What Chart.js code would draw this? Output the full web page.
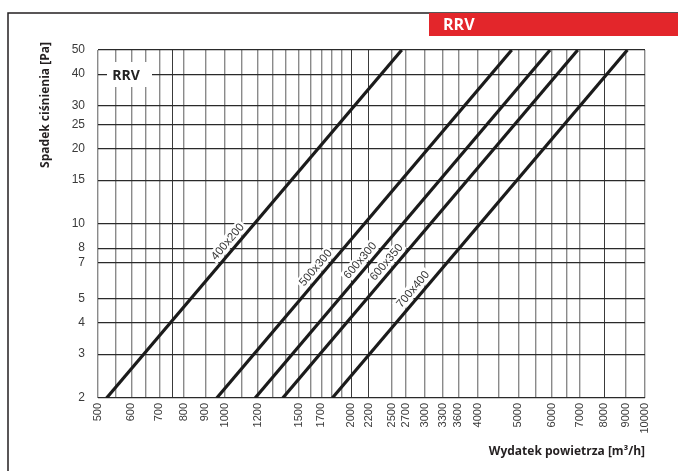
<!DOCTYPE html>
<html>
<head>
<meta charset="utf-8">
<script src="https://cdn.jsdelivr.net/npm/chart.js@4.4.1/dist/chart.umd.min.js"></script>
<style>
  html, body { margin: 0; padding: 0; background: #fff; }
  #wrap { width: 678px; height: 471px; }
</style>
</head>
<body>
<div id="wrap"><canvas id="rrvChart" width="678" height="471"></canvas></div>
<script>
// Charakterystyka RRV — spadek ciśnienia vs wydatek powietrza (skala log-log)

const SIZES = ['400x200', '500x300', '600x300', '600x350', '700x400'];
// Wydatek [m3/h] przy 2 Pa i przy 50 Pa (końce prostych)
const FLOW_AT_2PA = [524, 958, 1182, 1375, 1804];
const FLOW_AT_50PA = [2639, 4820, 5945, 6920, 9080];
const DP_LOW = 2;
const DP_HIGH = 50;

// Linie siatki osi X i opisane wartości
const X_GRID = [500, 550, 600, 650, 700, 750, 800, 900, 1000, 1100, 1200, 1300, 1400, 1500, 1600,
  1700, 1800, 1900, 2000, 2200, 2500, 2700, 3000, 3300, 3600, 4000, 4500, 5000, 5500, 6000, 6500,
  7000, 8000, 9000, 10000];
const X_LABELS = [500, 600, 700, 800, 900, 1000, 1200, 1500, 1700, 2000, 2200, 2500, 2700, 3000,
  3300, 3600, 4000, 5000, 6000, 7000, 8000, 9000, 10000];
const X_DARK = [750, 2000, 2200, 8000];
const Y_TICKS = [2, 3, 4, 5, 7, 8, 10, 15, 20, 25, 30, 40, 50];

// Położenie opisów wzdłuż prostych (ułamek długości od dołu)
const LABEL_T = [0.433, 0.358, 0.379, 0.374, 0.296];

const LINE_COLOR = '#1b1b1b';
const TEXT_COLOR = '#3a3a3a';

const decor = {
  id: 'decor',
  beforeDatasetsDraw(chart) {
    const ctx = chart.ctx;
    const xs = chart.scales.x, ys = chart.scales.y;

    // ramka: góra + lewa krawędź
    ctx.save();
    ctx.strokeStyle = '#231f20';
    ctx.lineWidth = 1.5;
    ctx.beginPath();
    ctx.moveTo(8, 471);
    ctx.lineTo(8, 13);
    ctx.lineTo(678, 13);
    ctx.stroke();

    // czerwony pasek z nazwą
    ctx.fillStyle = '#e3262b';
    ctx.fillRect(429, 13, 249, 23);
    ctx.fillStyle = '#fff';
    ctx.font = 'bold 16px "Open Sans"';
    ctx.textBaseline = 'middle';
    ctx.textAlign = 'left';
    ctx.fillText('RRV', 443, 25);

    // wstawka RRV w polu wykresu
    ctx.fillStyle = '#fff';
    ctx.fillRect(107, 62, 45, 25);
    ctx.fillStyle = '#222';
    ctx.font = 'bold 14px "Open Sans"';
    ctx.textAlign = 'center';
    ctx.fillText('RRV', 126, 76);

    // tytuły osi
    ctx.font = 'bold 12px "Open Sans"';
    ctx.fillStyle = '#231f20';
    ctx.save();
    ctx.translate(46, 105);
    ctx.rotate(-Math.PI / 2);
    ctx.textAlign = 'center';
    ctx.fillText('Spadek ciśnienia [Pa]', 0, 0);
    ctx.restore();
    ctx.textAlign = 'right';
    ctx.fillText('Wydatek powietrza [m³/h]', 645, 452);

    // opisy prostych
    ctx.font = '11.5px "Liberation Sans"';
    SIZES.forEach((name, i) => {
      const x0 = xs.getPixelForValue(FLOW_AT_2PA[i]), y0 = ys.getPixelForValue(DP_LOW);
      const x1 = xs.getPixelForValue(FLOW_AT_50PA[i]), y1 = ys.getPixelForValue(DP_HIGH);
      const dx = x1 - x0, dy = y1 - y0;
      const len = Math.hypot(dx, dy);
      const t = LABEL_T[i];
      const off = 9;
      const cx = x0 + dx * t + (dy / len) * off;
      const cy = y0 + dy * t + (-dx / len) * off;
      ctx.save();
      ctx.translate(cx, cy);
      ctx.rotate(Math.atan2(dy, dx));
      const w = ctx.measureText(name).width;
      ctx.fillStyle = '#fff';
      ctx.fillRect(-w / 2 - 2, -6.5, w + 4, 13);
      ctx.fillStyle = TEXT_COLOR;
      ctx.textAlign = 'center';
      ctx.textBaseline = 'middle';
      ctx.fillText(name, 0, 0.5);
      ctx.restore();
    });
    ctx.restore();
  }
};

const chart = new Chart(document.getElementById('rrvChart').getContext('2d'), {
  type: 'line',
  data: {
    datasets: SIZES.map((name, i) => ({
      label: name,
      data: [{ x: FLOW_AT_2PA[i], y: DP_LOW }, { x: FLOW_AT_50PA[i], y: DP_HIGH }],
      borderColor: LINE_COLOR,
      borderWidth: 3.2,
      pointRadius: 0,
      tension: 0,
      fill: false
    }))
  },
  options: {
    responsive: false,
    animation: false,
    events: [],
    layout: { padding: { left: 0, top: 50, right: 33, bottom: 0 } },
    plugins: { legend: { display: false }, tooltip: { enabled: false } },
    scales: {
      x: {
        type: 'logarithmic',
        min: 500,
        max: 10000,
        afterBuildTicks: s => { s.ticks = X_GRID.map(v => ({ value: v })); },
        afterFit: s => { s.height = 73; },
        ticks: {
          autoSkip: false,
          minRotation: 90,
          maxRotation: 90,
          padding: 5,
          color: TEXT_COLOR,
          font: { family: 'Liberation Sans', size: 11 },
          callback: v => X_LABELS.includes(v) ? String(v) : ''
        },
        grid: {
          drawTicks: false,
          color: c => X_DARK.includes(c.tick && c.tick.value) ? '#3a3a3a' : '#8a8a8a',
          lineWidth: c => X_DARK.includes(c.tick && c.tick.value) ? 1 : 1.4
        },
        border: { display: false }
      },
      y: {
        type: 'logarithmic',
        min: DP_LOW,
        max: DP_HIGH,
        afterBuildTicks: s => { s.ticks = Y_TICKS.map(v => ({ value: v })); },
        afterFit: s => { s.width = 98; },
        ticks: {
          padding: 13,
          color: TEXT_COLOR,
          font: { family: 'Liberation Sans', size: 12 },
          callback: v => String(v)
        },
        grid: { drawTicks: false, color: '#2a2a2a', lineWidth: 1.2 },
        border: { display: false }
      }
    }
  },
  plugins: [decor]
});
</script>
</body>
</html>
